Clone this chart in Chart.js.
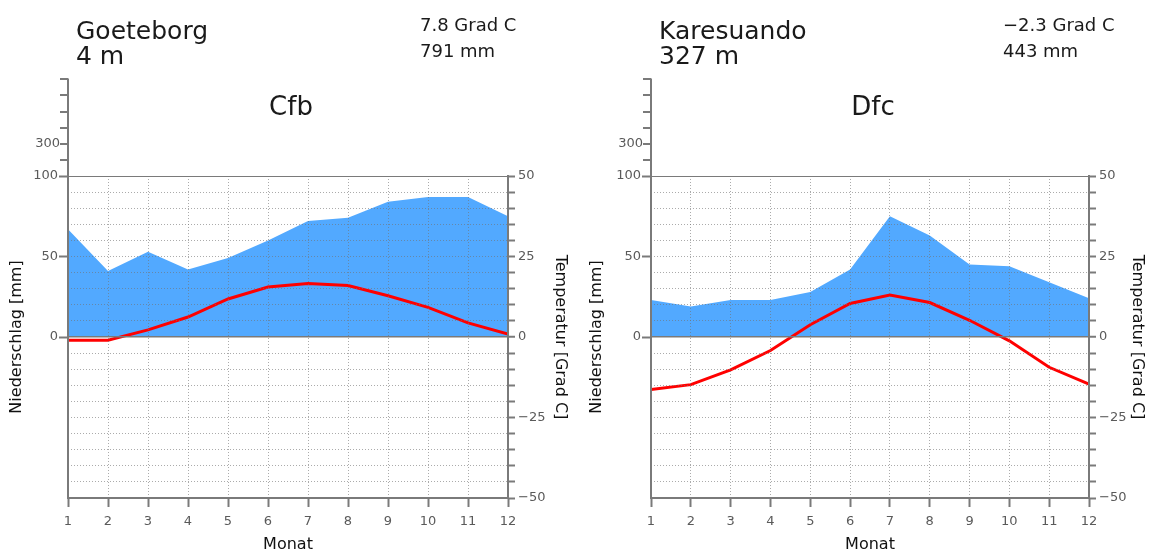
<!DOCTYPE html>
<html>
<head>
<meta charset="utf-8">
<script src="https://cdn.jsdelivr.net/npm/chart.js@4.4.1/dist/chart.umd.min.js"></script>
<style>
  html, body { margin: 0; padding: 0; background: #fff; }
  #wrap { position: relative; width: 1157px; height: 554px; overflow: hidden; }
  canvas { position: absolute; top: 0; }
</style>
</head>
<body>
<div id="wrap">
  <canvas id="chartGoeteborg" width="580" height="554" style="left:0px"></canvas>
  <canvas id="chartKaresuando" width="577" height="554" style="left:580px"></canvas>
</div>
<script>
// months and monthly values
const months = [1, 2, 3, 4, 5, 6, 7, 8, 9, 10, 11, 12];

const goeteborgPrecip = [67, 41, 53, 42, 49, 60, 72, 74, 84, 87, 87, 75];
const goeteborgTemp = [-1.0, -1.0, 2.2, 6.2, 11.8, 15.5, 16.6, 16.0, 12.8, 9.2, 4.4, 0.9];

const karesuandoPrecip = [23, 19, 23, 23, 28, 42, 75, 63, 45, 44, 34, 24];
const karesuandoTemp = [-16.3, -14.8, -10.2, -4.2, 3.8, 10.4, 13.0, 10.7, 5.2, -1.2, -9.4, -14.6];

const precipTicks = [0, 50, 100];
const precipUpperTicks = [200, 300, 400, 500, 600, 700];   // compressed 1:10 above 100 mm
const precipUpperLabels = [300];
const tempLabelTicks = [-50, -25, 0, 25, 50];

const FONT = "'DejaVu Sans', sans-serif";
const AXIS = '#7a7a7a';
const TICKTXT = '#5a5a5a';
const DOTS = 'rgba(115,115,115,0.6)';

const decorPlugin = {
  id: 'decor',
  afterDraw(chart, args, opts) {
    const ctx = chart.ctx;
    const a = chart.chartArea;
    const yP = chart.scales.yP;
    ctx.save();
    ctx.fillStyle = '#1a1a1a';
    ctx.textBaseline = 'alphabetic';
    ctx.textAlign = 'left';
    ctx.font = '25px ' + FONT;
    ctx.fillText(opts.name, a.left + 8, 39);
    ctx.fillText(opts.height, a.left + 8, 64);
    ctx.font = '18px ' + FONT;
    ctx.fillText(opts.tempText, a.left + 352, 31);
    ctx.fillText(opts.precipText, a.left + 352, 57);
    ctx.font = '26px ' + FONT;
    ctx.textAlign = 'center';
    ctx.fillText(opts.climate, (a.left + a.right) / 2 + 3, 115);

    // upper part of the precipitation axis, 100 mm steps at 1/10 scale
    const y100 = yP.getPixelForValue(100);
    const pxPerMm = yP.getPixelForValue(0) - yP.getPixelForValue(1);
    const yOf = v => y100 - (v - 100) / 10 * pxPerMm;
    const yTopAxis = yOf(precipUpperTicks[precipUpperTicks.length - 1]);
    ctx.strokeStyle = AXIS;
    ctx.lineWidth = 2;
    ctx.beginPath();
    ctx.moveTo(a.left, y100);
    ctx.lineTo(a.left, yTopAxis - 1);
    ctx.stroke();
    ctx.font = '13px ' + FONT;
    ctx.fillStyle = TICKTXT;
    ctx.textAlign = 'right';
    ctx.textBaseline = 'middle';
    precipUpperTicks.forEach(v => {
      const y = Math.round(yOf(v));
      ctx.beginPath();
      ctx.moveTo(a.left - 8, y);
      ctx.lineTo(a.left, y);
      ctx.stroke();
      if (precipUpperLabels.includes(v)) ctx.fillText(String(v), a.left - 8, y);
    });
    ctx.restore();
  }
};

function makeClimateChart(canvasId, cfg) {
  const canvas = document.getElementById(canvasId);
  return new Chart(canvas, {
    type: 'line',
    data: {
      datasets: [
        {
          label: 'Temperatur',
          data: months.map((m, i) => ({ x: m, y: cfg.temp[i] })),
          yAxisID: 'yT',
          borderColor: '#ff0000',
          borderWidth: 3,
          pointRadius: 0,
          fill: false,
          tension: 0,
          order: 0
        },
        {
          label: 'Niederschlag',
          data: months.map((m, i) => ({ x: m, y: cfg.precip[i] })),
          yAxisID: 'yP',
          borderWidth: 0,
          borderColor: 'rgba(0,0,0,0)',
          backgroundColor: '#52a9ff',
          pointRadius: 0,
          fill: { value: 0 },
          tension: 0,
          order: 1
        }
      ]
    },
    options: {
      responsive: false,
      animation: false,
      events: [],
      layout: { padding: { top: 176, left: 0, right: 0, bottom: 0 } },
      plugins: {
        legend: { display: false },
        tooltip: { enabled: false },
        decor: cfg.decor
      },
      scales: {
        x: {
          type: 'linear',
          position: 'bottom',
          min: 1,
          max: 12,
          afterFit: s => { s.height = 56; },
          ticks: { stepSize: 1, autoSkip: false, maxRotation: 0, color: TICKTXT, padding: 7, font: { family: FONT, size: 13 } },
          grid: {
            z: 1,
            color: c => (c.tick && (c.tick.value === 1 || c.tick.value === 12)) ? 'rgba(0,0,0,0)' : DOTS,
            lineWidth: 1,
            drawTicks: true,
            tickLength: 9,
            tickColor: AXIS,
            tickWidth: 2
          },
          border: { z: 2, color: AXIS, width: 2, dash: [1, 2] },
          title: { display: true, text: 'Monat', color: '#111', font: { family: FONT, size: 16 }, padding: { top: 0, bottom: 0 } }
        },
        yP: {
          type: 'linear',
          position: 'left',
          min: -100,
          max: 100,
          afterBuildTicks: s => { s.ticks = precipTicks.map(v => ({ value: v })); },
          afterFit: s => { s.width = cfg.leftW; },
          ticks: { color: TICKTXT, padding: 1, font: { family: FONT, size: 13 } },
          grid: { drawOnChartArea: false, drawTicks: true, tickLength: 9, tickColor: AXIS, tickWidth: 2 },
          border: { z: 2, color: AXIS, width: 2 },
          title: { display: true, text: 'Niederschlag [mm]', color: '#111', font: { family: FONT, size: 16 }, padding: { top: 7 } }
        },
        yT: {
          type: 'linear',
          position: 'right',
          min: -50,
          max: 50,
          afterFit: s => { s.width = cfg.rightW; },
          ticks: {
            stepSize: 5,
            autoSkip: false,
            color: TICKTXT,
            padding: 3,
            font: { family: FONT, size: 13 },
            callback: v => tempLabelTicks.includes(v) ? (v < 0 ? '\u2212' + Math.abs(v) : String(v)) : ''
          },
          grid: {
            z: 1,
            color: c => (c.tick && (c.tick.value === 0 || Math.abs(c.tick.value) === 50)) ? AXIS : DOTS,
            lineWidth: c => (c.tick && c.tick.value === 0) ? 1.5 : 1,
            drawTicks: true,
            tickLength: 7,
            tickColor: AXIS,
            tickWidth: 2
          },
          border: {
            z: 2,
            color: AXIS,
            width: 2,
            dash: c => (c.tick && (c.tick.value === 0 || Math.abs(c.tick.value) === 50)) ? [] : [1, 2]
          },
          title: { display: true, text: 'Temperatur [Grad C]', color: '#111', font: { family: FONT, size: 16 }, padding: { top: 10 } }
        }
      }
    },
    plugins: [decorPlugin]
  });
}

makeClimateChart('chartGoeteborg', {
  precip: goeteborgPrecip,
  temp: goeteborgTemp,
  leftW: 68,
  rightW: 72,
  decor: { name: 'Goeteborg', height: '4 m', tempText: '7.8 Grad C', precipText: '791 mm', climate: 'Cfb' }
});

makeClimateChart('chartKaresuando', {
  precip: karesuandoPrecip,
  temp: karesuandoTemp,
  leftW: 71,
  rightW: 68,
  decor: { name: 'Karesuando', height: '327 m', tempText: '\u22122.3 Grad C', precipText: '443 mm', climate: 'Dfc' }
});
</script>
</body>
</html>
